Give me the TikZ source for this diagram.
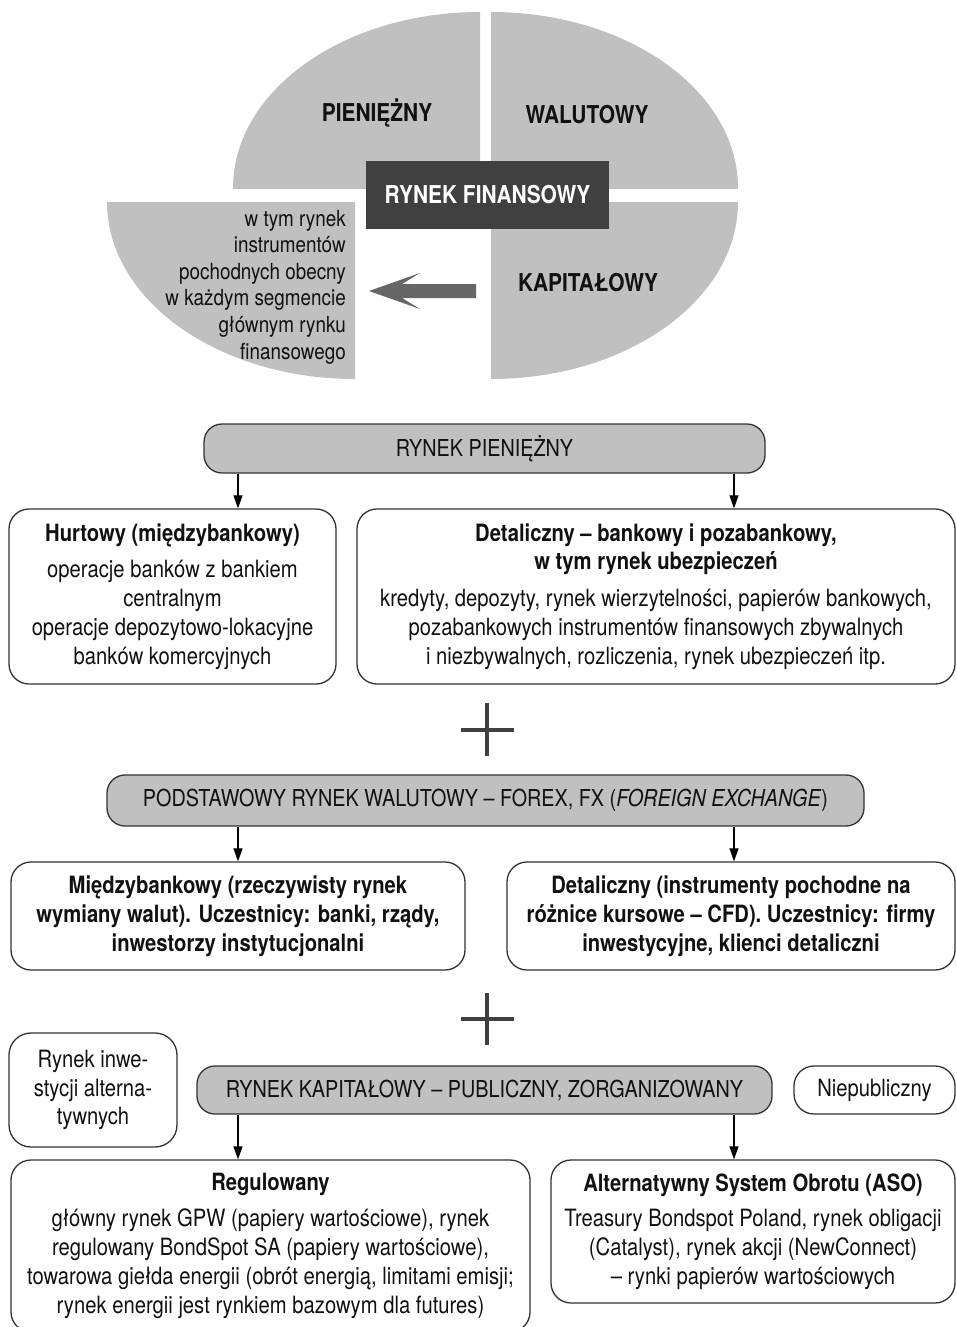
\documentclass[tikz,border=0pt]{standalone}
\usepackage{fontspec}
\setmainfont{TeX Gyre Heros}[FakeStretch=0.85]
\usetikzlibrary{arrows.meta}
\definecolor{pie}{HTML}{C0C0C0}
\definecolor{darkbox}{HTML}{404040}
\definecolor{arrg}{HTML}{666666}
\definecolor{edge}{HTML}{333333}
\definecolor{ink}{HTML}{111111}
\newcommand{\bodyfont}{\fontsize{23.8}{28.8}\selectfont}
\newcommand{\pillfont}{\fontsize{23.3}{28}\selectfont}
\newcommand{\topfont}{\fontsize{22.2}{26.6}\selectfont}
\newcommand{\labfont}{\fontsize{24.6}{27}\selectfont\bfseries}
\begin{document}
\begin{tikzpicture}[x=1pt,y=-1pt,
 box/.style={draw=edge, line width=1.3pt, rounded corners=20pt, align=center, font=\bodyfont, text=ink, inner sep=0pt},
 pill/.style={draw=edge, line width=1.3pt, fill=pie, rounded corners=18pt, font=\pillfont, text=ink, inner sep=0pt},
 arr/.style={draw=black, line width=1.1pt, -{Triangle[length=13pt,width=9pt]}},
 plusbar/.style={draw=darkbox, line width=4pt},
 lab/.style={font=\labfont, text=ink, inner sep=0pt},
]
\useasboundingbox (0,0) rectangle (957,1327);
% ---------- top pie ----------
\begin{scope}
\clip (233,12) rectangle (480,188);
\fill[pie] (480,188) ellipse [x radius=247pt, y radius=176pt];
\end{scope}
\begin{scope}
\clip (491,12) rectangle (738,188);
\fill[pie] (491,188) ellipse [x radius=247pt, y radius=176pt];
\end{scope}
\begin{scope}
\clip (491,202) rectangle (738,379);
\fill[pie] (491,202) ellipse [x radius=247pt, y radius=177pt];
\end{scope}
\begin{scope}
\clip (107,202) rectangle (355,379);
\fill[pie] (355,202) ellipse [x radius=248pt, y radius=177pt];
\end{scope}
\node[lab] (pien) at (377,113) {PIENIĘŻNY};
\node[lab] (walu) at (587,115) {WALUTOWY};
\node[lab] (kapi) at (588,283) {KAPITAŁOWY};
\node[fill=darkbox, text=white, font=\labfont, minimum width=243pt, minimum height=68pt, inner sep=0pt] (fin) at (487.5,195) {RYNEK FINANSOWY};
\node[font=\topfont, text=ink, align=right, anchor=east, inner sep=0pt] (deriv) at (346,287)
 {w tym rynek\\instrumentów\\pochodnych obecny\\w każdym segmencie\\głównym rynku\\finansowego};
\fill[arrg] (476,284) -- (402,284) -- (420,273) -- (369,291) -- (420,309) -- (402,298) -- (476,298) -- cycle;
% ---------- rynek pieniezny ----------
\node[pill, minimum width=561pt, minimum height=49pt] (pp) at (484.5,448.5) {RYNEK PIENIĘŻNY};
\node[box, minimum width=327pt, minimum height=175pt] (hurt) at (172.5,596.5)
 {\textbf{Hurtowy (międzybankowy)}\\[8pt]operacje banków z bankiem\\centralnym\\operacje depozytowo-lokacyjne\\banków komercyjnych};
\node[box, minimum width=598pt, minimum height=175pt] (detp) at (656,596.5)
 {\textbf{Detaliczny – bankowy i pozabankowy,}\\\textbf{w tym rynek ubezpieczeń}\\[8pt]kredyty, depozyty, rynek wierzytelności, papierów bankowych,\\pozabankowych instrumentów finansowych zbywalnych\\i niezbywalnych, rozliczenia, rynek ubezpieczeń itp.};
\coordinate (a1) at (238,0);
\coordinate (a2) at (734,0);
\draw[arr] (pp.south -| a1) -- (hurt.north -| a1);
\draw[arr] (pp.south -| a2) -- (detp.north -| a2);
% plus 1
\draw[plusbar] (487,703) -- (487,756);
\draw[plusbar] (461,730) -- (514,730);
% ---------- rynek walutowy ----------
\node[pill, minimum width=757pt, minimum height=51pt] (pw) at (485.5,800.5)
 {PODSTAWOWY RYNEK WALUTOWY – FOREX, FX (\textit{FOREIGN EXCHANGE})};
\node[box, minimum width=454pt, minimum height=108pt, font=\bodyfont\bfseries] (mb) at (238,916)
 {Międzybankowy (rzeczywisty rynek\\wymiany walut). Uczestnicy: banki, rządy,\\inwestorzy instytucjonalni};
\node[box, minimum width=448pt, minimum height=108pt, font=\bodyfont\bfseries] (detw) at (731,916)
 {Detaliczny (instrumenty pochodne na\\różnice kursowe – CFD). Uczestnicy: firmy\\inwestycyjne, klienci detaliczni};
\draw[arr] (pw.south -| a1) -- (mb.north -| a1);
\draw[arr] (pw.south -| a2) -- (detw.north -| a2);
% plus 2
\draw[plusbar] (487,993) -- (487,1045);
\draw[plusbar] (461,1019) -- (514,1019);
% ---------- rynek kapitalowy ----------
\node[box, minimum width=168pt, minimum height=114pt, rounded corners=22pt] (alt) at (93,1090)
 {Rynek inwe-\\stycji alterna-\\tywnych};
\node[pill, minimum width=575pt, minimum height=48pt] (pk) at (484.5,1090)
 {RYNEK KAPITAŁOWY – PUBLICZNY, ZORGANIZOWANY};
\node[box, minimum width=161pt, minimum height=48pt, rounded corners=20pt] (niep) at (874.5,1090) {Niepubliczny};
\node[box, minimum width=519pt, minimum height=172pt] (reg) at (270.5,1246)
 {\textbf{Regulowany}\\[7pt]główny rynek GPW (papiery wartościowe), rynek\\regulowany BondSpot SA (papiery wartościowe),\\towarowa giełda energii (obrót energią, limitami emisji;\\rynek energii jest rynkiem bazowym dla futures)};
\node[box, minimum width=404pt, minimum height=143pt] (aso) at (753,1231.5)
 {\textbf{Alternatywny System Obrotu (ASO)}\\[7pt]Treasury Bondspot Poland, rynek obligacji\\(Catalyst), rynek akcji (NewConnect)\\– rynki papierów wartościowych};
\draw[arr] (pk.south -| a1) -- (reg.north -| a1);
\draw[arr] (pk.south -| a2) -- (aso.north -| a2);
\end{tikzpicture}
\end{document}
